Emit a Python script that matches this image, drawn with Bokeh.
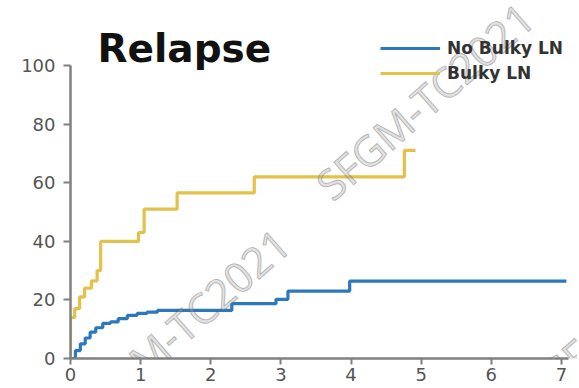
from bokeh.plotting import figure
from bokeh.models import Legend, LegendItem, Label, Range1d, FixedTicker
from bokeh.embed import file_html
from bokeh.resources import INLINE

# Data
no_bulky_t = [0, 0.07, 0.14, 0.21, 0.28, 0.36, 0.46, 0.57, 0.68, 0.81, 0.95, 1.09, 1.24, 2.30, 2.93, 3.10, 3.98, 7.07]
no_bulky_v = [0, 2.7, 5.0, 7.0, 9.0, 10.5, 12.0, 12.5, 13.6, 14.7, 15.4, 15.8, 16.4, 18.7, 20.2, 23.0, 26.4, 26.4]

bulky_t = [0, 0, 0.06, 0.13, 0.20, 0.30, 0.38, 0.43, 0.97, 1.05, 1.52, 2.62, 4.76, 4.92]
bulky_v = [0, 14, 17, 21, 24, 26.5, 30, 40, 43, 51, 56.5, 62, 71, 71]

x_ticks = [0, 1, 2, 3, 4, 5, 6, 7]
y_ticks = [0, 20, 40, 60, 80, 100]
series_names = ["No Bulky LN", "Bulky LN"]
title_text = "Relapse"
watermark = "SFGM-TC2021"

BLUE = "#2C78BC"
GOLD = "#E3C24C"
AXIS = "#808080"

# frame spans the canvas top/right so title, legend and watermarks fit inside it
FRAME_H = 358
p = figure(width=577, height=386, output_backend="svg", toolbar_location=None,
           x_range=Range1d(0, 7.1 * 507 / 498), y_range=Range1d(0, 100 * FRAME_H / 293),
           min_border_left=70, min_border_right=0, min_border_bottom=28, min_border_top=0)
p.background_fill_color = "white"
p.border_fill_color = "white"
p.outline_line_color = None
p.xgrid.visible = False
p.ygrid.visible = False

for ax in (p.xaxis[0], p.yaxis[0]):
    ax.axis_line_color = AXIS
    ax.axis_line_width = 2.5
    ax.major_tick_line_color = AXIS
    ax.major_tick_line_width = 2
    ax.major_tick_in = 0
    ax.minor_tick_line_color = None
    ax.major_label_text_font = "DejaVu Sans"
    ax.major_label_text_font_size = "18px"
    ax.major_label_text_color = "#555555"
p.xaxis.ticker = FixedTicker(ticks=x_ticks)
p.yaxis.ticker = FixedTicker(ticks=y_ticks)
p.xaxis.bounds = (0, 7.1)
p.yaxis.bounds = (0, 100)
p.xaxis.major_tick_out = 6
p.yaxis.major_tick_out = 7
p.xaxis.major_label_standoff = 3
p.yaxis.major_label_standoff = 8

r1 = p.step(no_bulky_t, no_bulky_v, mode="after", line_color=BLUE, line_width=3.2)
r2 = p.step(bulky_t, bulky_v, mode="after", line_color=GOLD, line_width=3.2)

p.add_layout(Label(x=27, y=FRAME_H - 48, x_units="screen", y_units="screen", text=title_text,
                   text_font="DejaVu Sans", text_font_size="39px", text_font_style="bold",
                   text_color="#111111", text_baseline="alphabetic"))

legend = Legend(items=[LegendItem(label=series_names[0], renderers=[r1]),
                       LegendItem(label=series_names[1], renderers=[r2])],
                location=(310, FRAME_H - 83), border_line_color=None, background_fill_alpha=0,
                padding=0, margin=0, spacing=5, glyph_width=60, glyph_height=20,
                label_height=20, label_standoff=7, label_text_font="DejaVu Sans",
                label_text_font_size="17px", label_text_font_style="bold",
                label_text_color="#333333")
p.add_layout(legend, "center")

wm_kw = dict(text=watermark, x_units="screen", y_units="screen", angle=0.72,
             text_align="center", text_baseline="middle",
             text_font="Open Sans", text_font_size="42px", text_color="#aaaaaa",
             text_alpha=0.35, text_outline_color="#4a4a4a")
p.add_layout(Label(x=180 - 70, y=FRAME_H - 326, **wm_kw))
p.add_layout(Label(x=424 - 70, y=FRAME_H - 100, **wm_kw))
p.add_layout(Label(x=652 - 70, y=FRAME_H - 287, **wm_kw))

open("out.html", "w").write(file_html(p, INLINE))
